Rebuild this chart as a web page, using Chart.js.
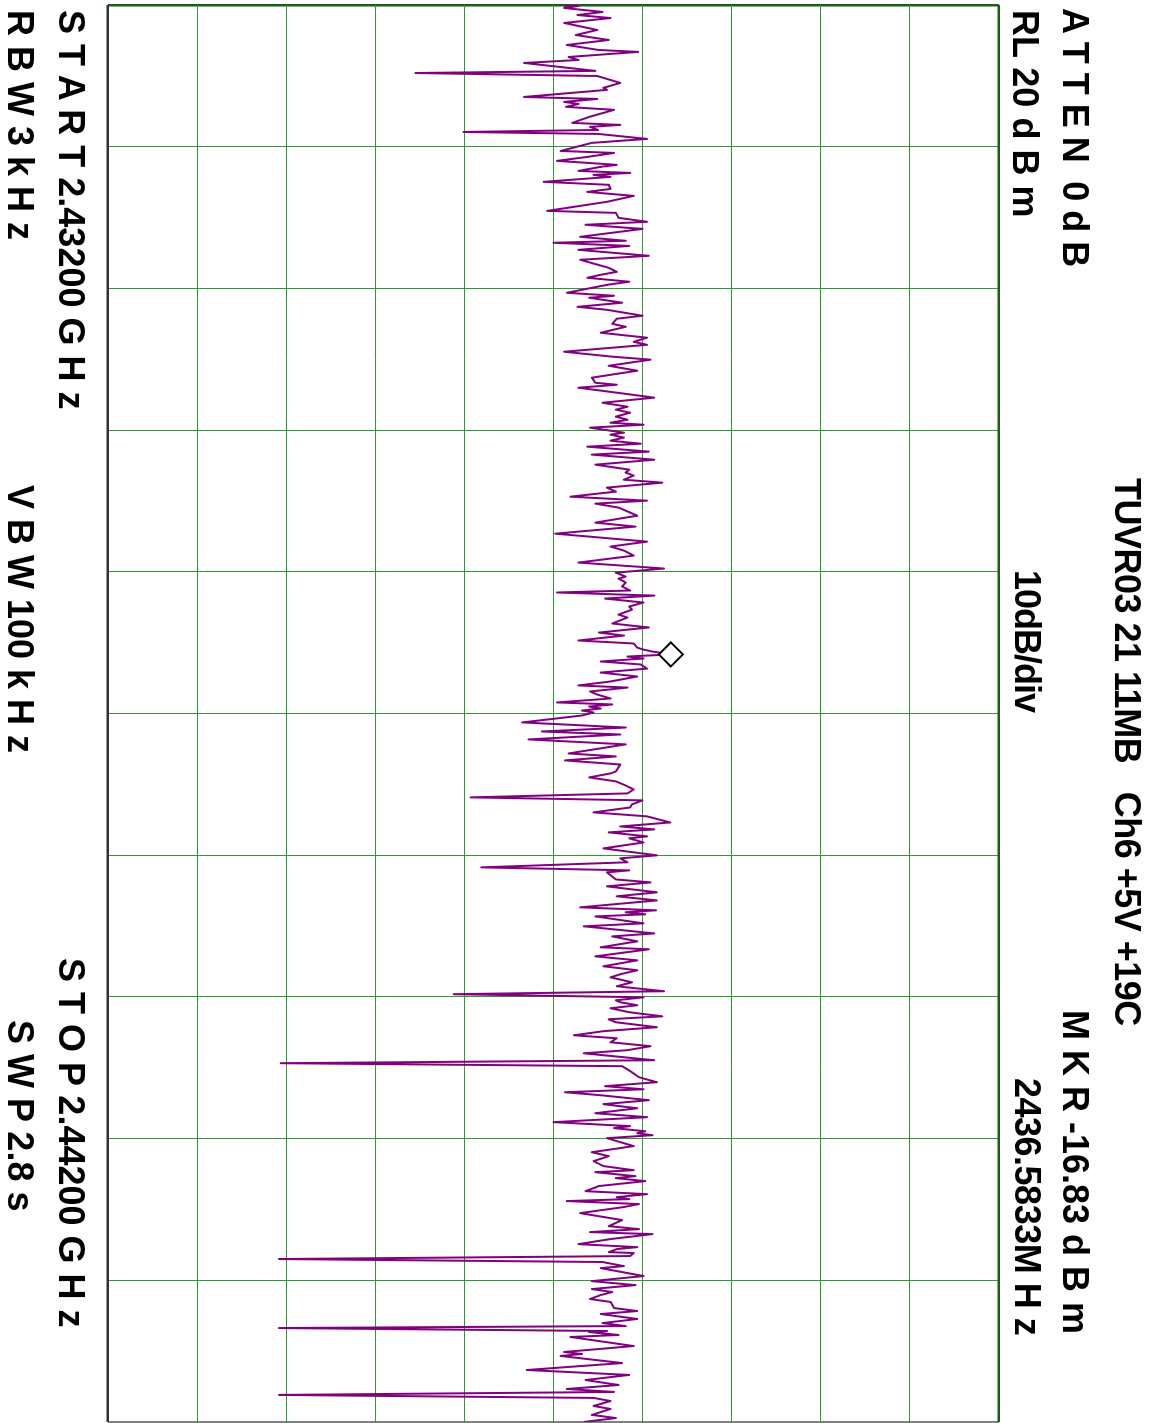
<!DOCTYPE html>
<html>
<head>
<meta charset="utf-8">
<script src="https://cdn.jsdelivr.net/npm/chart.js@4.4.1/dist/chart.umd.min.js"></script>
<style>
  html, body { margin: 0; padding: 0; background: #fff; overflow: hidden; }
  /* the plotter page is drawn upright and turned a quarter clockwise */
  #sheet {
    position: absolute; left: 0; top: 0;
    width: 1423px; height: 1157px;
    transform-origin: 0 0;
    transform: translate(1157px, 0) rotate(90deg);
  }
  #analisador { position: absolute; left: 0; top: 0; }
  .lbl {
    position: absolute;
    font-family: "Liberation Sans", Arial, sans-serif;
    font-weight: bold;
    font-size: 36px;
    line-height: 36px;
    white-space: pre;
    color: #000;
  }
  .aperto { letter-spacing: -0.5px; }
</style>
</head>
<body>
<div id="sheet">
  <canvas id="analisador" width="1423" height="1157"></canvas>
  <div class="lbl aperto" style="left:8px;top:64px">A T T E N  0 d B</div>
  <div class="lbl" style="left:10px;top:114px">RL 20 d B m</div>
  <div class="lbl aperto" style="left:478px;top:12px">TUVR03 21 11MB   Ch6 +5V +19C</div>
  <div class="lbl" style="left:570px;top:112px;letter-spacing:-1px">10dB/div</div>
  <div class="lbl" style="left:1010px;top:64px">M K R -16.83 d B m</div>
  <div class="lbl aperto" style="left:1078px;top:112px">2436.5833M H z</div>
  <div class="lbl" style="left:10px;top:1068px">S T A R T 2.43200 G H z</div>
  <div class="lbl" style="left:958px;top:1068px">S T O P 2.44200 G H z</div>
  <div class="lbl" style="left:10px;top:1119px">R B W 3 k H z</div>
  <div class="lbl" style="left:485px;top:1119px">V B W 100 k H z</div>
  <div class="lbl" style="left:1020px;top:1119px">S W P 2.8 s</div>
</div>

<script>
const START_MHZ = 2432;
const STOP_MHZ = 2442;
const REF_DBM = 20;
const DB_DIV = 10;

const marker = { mhz: 2436.5833, dbm: -16.83 };

// sweep offsets from START (kHz) and the level read at each one (dBm)
const sweepKHz = [
  0, 7, 21, 49, 71, 92, 127, 176, 212, 247, 282, 317, 331, 367, 388, 409, 465, 480, 501, 550,
  585, 599, 649, 663, 684, 698, 719, 740, 790, 832, 846, 860, 882, 896, 910, 945, 973,
  1030, 1044, 1072, 1100, 1128, 1142, 1171, 1185, 1199, 1213, 1248, 1269, 1298, 1319, 1347, 1389,
  1453, 1467, 1502, 1530, 1551, 1580, 1636, 1664, 1678, 1700, 1728, 1770, 1798, 1855, 1883, 1904,
  1925, 1953,
  1975, 2031, 2052, 2066, 2101, 2130, 2151, 2193, 2214, 2250, 2271, 2313, 2348, 2377, 2398, 2447,
  2482, 2503, 2546, 2581, 2630, 2666, 2680, 2701, 2736, 2771, 2807, 2835, 2856, 2877, 2905, 2927,
  2948,
  2962, 2983, 3018, 3032, 3053, 3075, 3096, 3117, 3152, 3173, 3209, 3244, 3279, 3300, 3321, 3350,
  3371, 3406, 3434, 3470, 3498, 3519, 3547, 3604, 3653, 3681, 3731, 3787, 3822, 3850, 3886, 3935,
  3977, 4006, 4034, 4048, 4076, 4104, 4132, 4146, 4168, 4189, 4217, 4245, 4267, 4302, 4323, 4365,
  4393, 4429, 4450, 4485, 4506, 4535, 4549, 4563, 4583, 4598, 4612, 4633, 4654, 4683, 4711, 4739,
  4774, 4802, 4817, 4845, 4866, 4894, 4922,
  4936, 4951, 4965, 4979, 4993, 5014, 5063, 5099, 5127, 5148, 5183, 5218, 5282, 5303, 5331, 5360,
  5409, 5423, 5451, 5479, 5508, 5536, 5564, 5592, 5613, 5642, 5663, 5698, 5726, 5769, 5797, 5818,
  5839, 5867, 5881, 5910,
  5952, 6001, 6022, 6050, 6086, 6107, 6121, 6171, 6192, 6220, 6262, 6290, 6319, 6368, 6389, 6403,
  6417, 6432, 6481, 6502, 6552, 6573, 6608, 6650, 6664, 6714, 6742, 6784, 6812, 6840, 6862, 6897,
  6925, 6960, 6981, 7003, 7024, 7038, 7059, 7080, 7108, 7137, 7158, 7179, 7214, 7242, 7271, 7292,
  7320, 7348, 7376, 7398, 7447, 7468, 7489, 7532, 7567, 7602, 7630, 7652, 7673, 7694, 7729, 7757,
  7786, 7821, 7849, 7863,
  7884, 7912, 7926, 7948, 7962, 7976, 7997, 8025, 8053, 8096, 8124, 8159, 8194, 8223, 8237, 8265,
  8279, 8300, 8335, 8371, 8392, 8413, 8427, 8441, 8462, 8483, 8526, 8575, 8618, 8639, 8660, 8674,
  8709, 8745, 8766, 8780, 8801, 8808, 8829, 8850,
  8871, 8900, 8914, 8935, 8970, 9006, 9034, 9062, 9083, 9104, 9132, 9153, 9196, 9217, 9238, 9273,
  9302, 9323, 9337, 9358, 9365, 9386, 9400, 9464, 9506, 9520, 9534, 9584, 9633, 9668, 9704, 9739,
  9767, 9788, 9809, 9830, 9852, 9887, 9908, 9950, 9972, 10000
];

const levelDbm = [
  -28.7, -27.2, -28.8, -24.5, -27.3, -23.6, -28.8, -25.1, -27.5, -23.8, -28.5, -25.0, -20.5, -28.3, -27.2, -33.3, -25.3, -45.5, -25.1, -22.5,
  -24.4, -24.0, -33.3, -25.1, -28.8, -27.2, -28.6, -23.2, -26.0, -27.9, -22.5, -25.9, -25.0, -40.1, -25.0, -19.5, -25.7,
  -29.2, -23.2, -26.2, -29.6, -22.9, -24.7, -27.2, -21.4, -25.5, -23.6, -31.1, -23.8, -23.6, -26.2, -21.0, -24.0,
  -30.7, -23.0, -22.7, -19.5, -26.4, -20.0, -27.0, -21.9, -30.0, -21.5, -27.2, -19.3, -27.0, -23.8, -22.9, -24.7,
  -26.2, -21.5,
  -24.0, -28.5, -23.2, -26.0, -22.3, -27.3, -24.0, -20.0, -22.9, -23.4, -21.9, -24.7, -19.5, -21.0, -19.5, -28.8,
  -23.4, -19.1, -23.8, -20.6, -25.7, -25.3, -22.9, -27.2, -22.9, -18.7, -24.5, -21.7, -23.0, -21.4, -23.0, -21.7,
  -23.6,
  -19.9, -25.9, -22.1, -23.6, -22.1, -23.6, -20.2, -26.2, -19.3, -25.7, -18.7, -25.3, -21.5, -21.9, -21.0, -22.1,
  -17.8, -24.0, -23.0, -28.1, -19.5, -25.3, -22.7, -20.6, -25.3, -20.8, -29.8, -19.5, -23.6, -22.1, -21.0, -27.2,
  -17.6, -23.0, -21.9, -22.7, -21.9, -22.3, -21.4, -29.6, -18.7, -24.2, -19.9, -21.5, -21.2, -22.7, -21.7, -23.4,
  -19.3, -24.9, -22.1, -27.2, -21.0, -20.6, -19.9, -18.9, -16.8, -21.7, -19.9, -24.7, -20.2, -19.5, -24.7, -20.6,
  -23.6, -27.2, -21.7, -25.9, -25.1, -23.6, -29.6,
  -23.4, -26.0, -24.7, -26.8, -25.5, -26.8, -33.5, -21.9, -31.3, -22.5, -32.8, -21.9, -28.3, -23.0, -28.7, -22.5,
  -23.0, -23.6, -26.0, -23.0, -21.9, -21.0, -21.7, -39.3, -20.0, -21.2, -21.4, -25.5, -19.5, -16.9, -22.5, -18.7,
  -23.8, -19.5, -21.5, -19.9,
  -24.4, -18.4, -22.5, -21.7, -38.1, -21.5, -24.0, -23.0, -19.1, -24.0, -18.4, -22.9, -18.4, -27.0, -18.5, -21.9,
  -19.7, -25.3, -19.9, -26.6, -18.7, -23.4, -20.6, -24.7, -19.3, -25.3, -20.6, -24.4, -20.6, -22.5, -23.6, -21.2,
  -22.9, -17.6, -41.2, -19.9, -23.0, -22.5, -20.6, -23.6, -21.5, -17.8, -23.8, -23.0, -18.4, -24.4, -27.7, -22.9,
  -23.6, -19.1, -21.7, -26.6, -18.7, -60.6, -22.3, -21.2, -20.4, -18.4, -24.2, -19.9, -28.7, -24.7, -19.3, -24.4,
  -20.6, -25.3, -19.5, -23.8,
  -30.0, -21.4, -23.2, -19.7, -20.6, -18.9, -24.0, -22.5, -21.0, -25.7, -23.8, -25.5, -24.4, -21.0, -25.3, -20.8,
  -23.0, -19.7, -24.9, -26.4, -19.5, -22.9, -21.5, -28.5, -20.4, -22.1, -27.0, -22.3, -23.8, -20.4, -25.9, -18.9,
  -23.6, -27.2, -20.6, -22.9, -23.8, -21.0, -21.4, -60.8,
  -24.5, -22.1, -24.7, -22.9, -19.9, -25.7, -20.8, -25.7, -23.4, -24.7, -25.9, -23.6, -23.2, -20.6, -24.7, -20.6,
  -24.5, -21.9, -60.8, -24.0, -26.0, -22.7, -28.1, -21.0, -28.8, -26.8, -29.2, -22.3, -33.0, -21.5, -26.4, -22.7,
  -28.5, -23.2, -60.8, -25.5, -23.6, -25.5, -23.6, -25.7, -23.0, -26.6
];

const corGrade = '#2f9a2f';
const corBorda = '#1f5a1f';
const corTraco = '#800080';

const gradeX = (ctx) => {
  const v = ctx.tick && ctx.tick.value;
  if (v === START_MHZ) return corBorda;
  if (v === STOP_MHZ) return '#808080';
  return corGrade;
};
const gradeY = (ctx) => {
  const v = ctx.tick && ctx.tick.value;
  if (v === REF_DBM) return corBorda;
  if (v === REF_DBM - 10 * DB_DIV) return '#333333';
  return corGrade;
};
const larguraX = (ctx) => (ctx.tick && (ctx.tick.value === START_MHZ || ctx.tick.value === STOP_MHZ)) ? 2.5 : 1;
const larguraY = (ctx) => (ctx.tick && (ctx.tick.value === REF_DBM || ctx.tick.value === REF_DBM - 10 * DB_DIV)) ? 2.5 : 1;

const graficoEspectro = (ctx) => {
  const traco = sweepKHz.map((k, i) => ({ x: START_MHZ + k / 1000, y: levelDbm[i] }));

  return new Chart(ctx, {
    type: 'line',
    data: {
      datasets: [
        {
          label: 'MKR',
          data: [{ x: marker.mhz, y: marker.dbm }],
          showLine: false,
          pointStyle: 'rectRot',
          pointRadius: 12,
          pointBackgroundColor: '#ffffff',
          pointBorderColor: '#000000',
          pointBorderWidth: 2,
          clip: false,
          order: 0
        },
        {
          label: 'Trace',
          data: traco,
          borderColor: corTraco,
          borderWidth: 2,
          borderJoinStyle: 'round',
          tension: 0,
          pointRadius: 0,
          fill: false,
          order: 1
        }
      ]
    },
    options: {
      responsive: false,
      animation: false,
      events: [],
      layout: { autoPadding: false, padding: { left: 5, right: 1, top: 158, bottom: 108 } },
      plugins: {
        legend: { display: false },
        tooltip: { enabled: false }
      },
      scales: {
        x: {
          type: 'linear',
          min: START_MHZ,
          max: STOP_MHZ,
          ticks: { display: false, stepSize: 1 },
          grid: { color: gradeX, lineWidth: larguraX, drawTicks: false },
          border: { display: false }
        },
        y: {
          type: 'linear',
          min: REF_DBM - 10 * DB_DIV,
          max: REF_DBM,
          ticks: { display: false, stepSize: DB_DIV },
          grid: { color: gradeY, lineWidth: larguraY, drawTicks: false },
          border: { display: false }
        }
      }
    }
  });
};

graficoEspectro(document.getElementById('analisador'));
</script>
</body>
</html>
